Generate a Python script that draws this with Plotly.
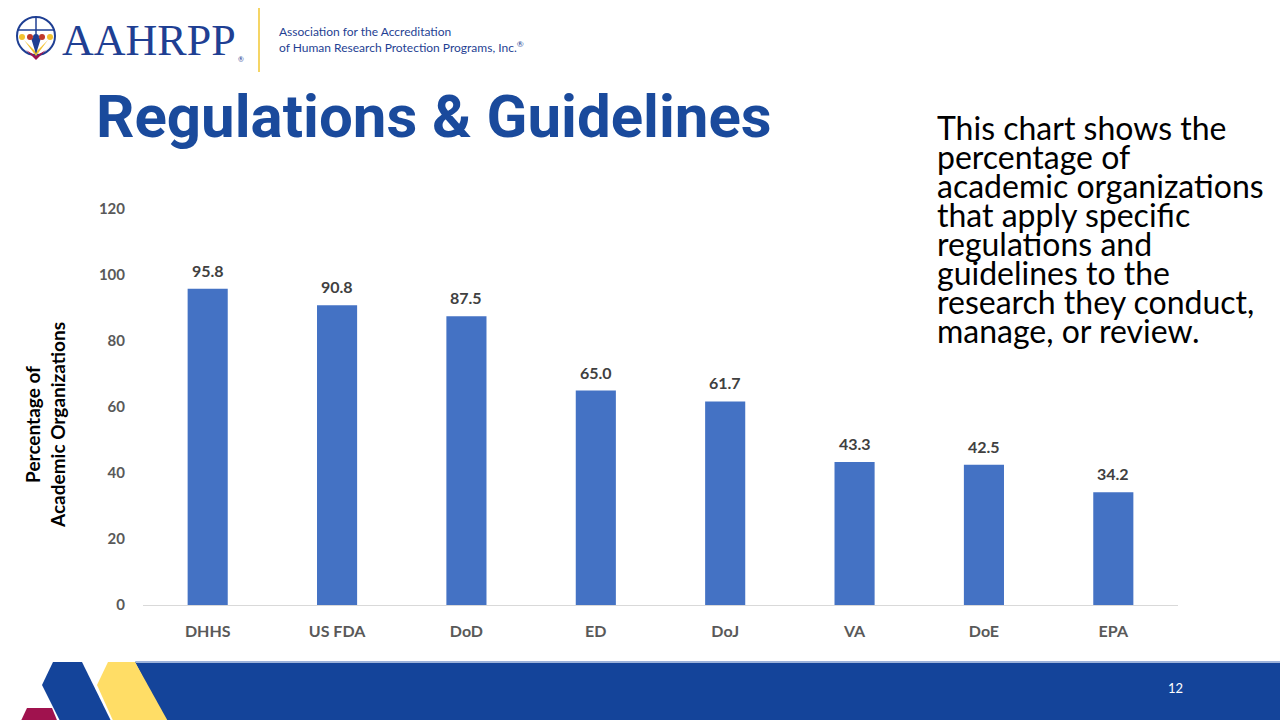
import plotly.graph_objects as go

categories = ["DHHS", "US FDA", "DoD", "ED", "DoJ", "VA", "DoE", "EPA"]
values = [95.8, 90.8, 87.5, 65.0, 61.7, 43.3, 42.5, 34.2]
y_ticks = [0, 20, 40, 60, 80, 100, 120]
side_lines = ["This chart shows the", "percentage of", "academic organizations",
              "that apply specific", "regulations and", "guidelines to the",
              "research they conduct,", "manage, or review."]

W, H = 1280, 720
L, R, T, B = 143, 1178, 209, 605


def px(x):
    return (x - L) / (R - L)


def py(y):
    return (B - y) / (B - T)


def poly(pts):
    d = "M " + " L ".join(f"{px(x):.5f},{py(y):.5f}" for x, y in pts) + " Z"
    return d


fig = go.Figure()
fig.add_trace(go.Bar(
    x=categories, y=values,
    marker=dict(color="#4472C4", line=dict(width=0)),
    width=0.31, hoverinfo="x+y",
))

shapes = []
# footer band
shapes.append(dict(type="path", path=poly([(135, 662), (1285, 662), (1285, 725), (167, 725)]),
                   xref="paper", yref="paper", fillcolor="#14449A", line=dict(width=0), layer="above"))
shapes.append(dict(type="path", path=poly([(135, 661), (1285, 661), (1285, 663), (136, 663)]),
                   xref="paper", yref="paper", fillcolor="#9DB3DB", line=dict(width=0), layer="above"))
shapes.append(dict(type="path", path=poly([(108, 662), (135, 662), (170, 725), (115, 725), (97, 685)]),
                   xref="paper", yref="paper", fillcolor="#FFDD66", line=dict(width=0), layer="above"))
shapes.append(dict(type="path", path=poly([(53, 662), (82, 662), (113, 725), (62, 725), (42, 685)]),
                   xref="paper", yref="paper", fillcolor="#14449A", line=dict(width=0), layer="above"))
shapes.append(dict(type="path", path=poly([(27, 708), (52, 708), (59, 725), (19, 725)]),
                   xref="paper", yref="paper", fillcolor="#A0124E", line=dict(width=0), layer="above"))
# logo divider
shapes.append(dict(type="line", x0=px(259), x1=px(259), y0=py(8), y1=py(72),
                   xref="paper", yref="paper", line=dict(color="#F5D565", width=2)))
# globe icon
shapes.append(dict(type="circle", x0=px(17), x1=px(55), y0=py(55), y1=py(17),
                   xref="paper", yref="paper", line=dict(color="#1F3F93", width=2)))
shapes.append(dict(type="line", x0=px(36), x1=px(36), y0=py(55), y1=py(17),
                   xref="paper", yref="paper", line=dict(color="#1F3F93", width=1.5)))
shapes.append(dict(type="line", x0=px(17), x1=px(55), y0=py(30), y1=py(30),
                   xref="paper", yref="paper", line=dict(color="#1F3F93", width=1.5)))
shapes.append(dict(type="path", path=poly([(18, 42), (36, 60), (54, 42), (46, 50), (36, 56), (26, 50)]),
                   xref="paper", yref="paper", fillcolor="#A0124E", line=dict(width=0)))
shapes.append(dict(type="path", path=poly([(24, 40), (36, 56), (48, 40), (42, 46), (36, 52), (30, 46)]),
                   xref="paper", yref="paper", fillcolor="#F2C230", line=dict(width=0)))
shapes.append(dict(type="path", path=poly([(31, 38), (36, 54), (41, 38)]),
                   xref="paper", yref="paper", fillcolor="#1F3F93", line=dict(width=0)))
for cx, col in [(22, "#F2C230"), (30, "#C0392B"), (36, "#1F3F93"), (42, "#C0392B"), (50, "#F2C230")]:
    shapes.append(dict(type="circle", x0=px(cx - 3), x1=px(cx + 3), y0=py(40), y1=py(34),
                       xref="paper", yref="paper", fillcolor=col, line=dict(width=0)))

ann = []
# data labels, placed through the data axes
for c, v in zip(categories, values):
    ann.append(dict(text=f"{v:.1f}", x=c, y=v, xref="x", yref="y", yanchor="bottom",
                    yshift=7, showarrow=False,
                    font=dict(family="Lato", size=16, color="#404040", weight="bold")))
ann.append(dict(text="AAHRPP", x=px(60), y=py(40), xanchor="left", yanchor="middle",
                xref="paper", yref="paper", showarrow=False,
                font=dict(family="Liberation Serif", size=44, color="#1F3F93")))
ann.append(dict(text="®", x=px(241), y=py(59), xanchor="center", yanchor="middle",
                xref="paper", yref="paper", showarrow=False,
                font=dict(family="Lato", size=7, color="#1F3F93")))
ann.append(dict(text="Association for the Accreditation", x=px(277), y=py(32), xanchor="left",
                yanchor="middle", xref="paper", yref="paper", showarrow=False,
                font=dict(family="Lato", size=12, color="#1F3F93")))
ann.append(dict(text="of Human Research Protection Programs, Inc.<sup>®</sup>", x=px(277), y=py(47),
                xanchor="left", yanchor="middle", xref="paper", yref="paper", showarrow=False,
                font=dict(family="Lato", size=12, color="#1F3F93")))
ann.append(dict(text="Regulations & Guidelines", x=px(94), y=py(116), xanchor="left", yanchor="middle",
                xref="paper", yref="paper", showarrow=False,
                font=dict(family="Roboto", size=60, color="#1A4A9C", weight="bold")))
for i, line in enumerate(side_lines):
    ann.append(dict(text=line, x=px(935), y=py(127 + 29 * i), xanchor="left", yanchor="middle",
                    xref="paper", yref="paper", showarrow=False,
                    font=dict(family="Lato", size=32, color="#000000")))
ann.append(dict(text="Percentage of<br>Academic Organizations", x=px(45), y=py(425),
                xanchor="center", yanchor="middle", textangle=-90,
                xref="paper", yref="paper", showarrow=False,
                font=dict(family="Lato", size=19, color="#000000", weight="bold")))
ann.append(dict(text="12", x=px(1175), y=py(688), xanchor="center", yanchor="middle",
                xref="paper", yref="paper", showarrow=False,
                font=dict(family="Lato", size=13, color="#FFFFFF")))

fig.update_layout(
    width=W, height=H,
    margin=dict(l=L, r=W - R, t=T, b=H - B, pad=0),
    paper_bgcolor="#FFFFFF", plot_bgcolor="#FFFFFF",
    showlegend=False, bargap=0.69,
    shapes=shapes, annotations=ann,
    xaxis=dict(showgrid=False, showline=True, linecolor="#D9D9D9", linewidth=1, ticks="",
               ticklabelstandoff=12,
               tickfont=dict(family="Lato", size=16, color="#595959", weight="bold"),
               fixedrange=True),
    yaxis=dict(range=[0, 120], tickvals=y_ticks, showgrid=False, zeroline=False, showline=False,
               ticks="", ticklabelstandoff=17,
               tickfont=dict(family="Lato", size=15, color="#595959", weight="bold"),
               fixedrange=True),
)

fig.write_html("out.html", config={"displayModeBar": False},
               post_script="document.body.style.margin='0';document.body.style.overflow='hidden';")
